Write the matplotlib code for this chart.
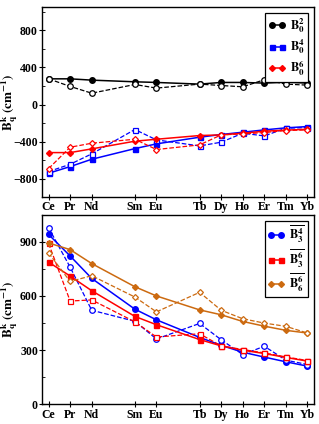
import numpy as np
import matplotlib
matplotlib.use('Agg')
import matplotlib.pyplot as plt
from matplotlib.ticker import MultipleLocator

plt.rcParams['font.family'] = 'Liberation Serif'
plt.rcParams['font.weight'] = 'bold'
plt.rcParams['mathtext.fontset'] = 'stix'

elements = ['Ce', 'Pr', 'Nd', 'Sm', 'Eu', 'Tb', 'Dy', 'Ho', 'Er', 'Tm', 'Yb']
z = [58, 59, 60, 62, 63, 65, 66, 67, 68, 69, 70]

# top panel (axial parameters): solid = filled markers, dashed = open markers
b20 = [277, 277, 263, 245, 238, 220, 238, 238, 231, 241, 231]
b20_open = [277, 195, 122, 216, 177, 220, 205, 191, 267, 220, 209]
b40 = [-742, -670, -591, -476, -425, -353, -324, -299, -274, -252, -238]
b40_open = [-724, -645, -533, -270, -382, -447, -407, -310, -339, -256, -249]
b60 = [-519, -519, -479, -396, -375, -335, -328, -310, -288, -277, -267]
b60_open = [-692, -461, -418, -375, -486, -436, -328, -317, -303, -281, -274]

# bottom panel (off-axial parameters)
b43 = [940, 821, 697, 527, 468, 371, 327, 289, 262, 236, 212]
b43_open = [977, 759, 521, 460, 362, 448, 358, 276, 322, 245, 221]
b63 = [787, 710, 629, 487, 441, 359, 324, 300, 282, 260, 240]
b63_open = [890, 572, 578, 457, 373, 391, 324, 304, 285, 263, 243]
b66 = [893, 856, 779, 651, 600, 523, 496, 459, 433, 410, 395]
b66_open = [838, 680, 712, 594, 512, 620, 521, 474, 450, 432, 395]

brown = '#cc6a10'


def draw(ax, full, opn, color, marker, label, ms):
    ax.plot(z, full, '-', color=color, marker=marker, ms=ms, lw=1.1, label=label)
    ax.plot(z, opn, '--', color=color, marker=marker, ms=ms, lw=0.9,
            mfc='white', mec=color, mew=0.9)


def style(ax, ylim, major, minor):
    ax.set_xlim(57.7, 70.3)
    ax.set_ylim(*ylim)
    ax.set_xticks(z)
    ax.set_xticklabels(elements)
    ax.yaxis.set_major_locator(MultipleLocator(major))
    ax.yaxis.set_minor_locator(MultipleLocator(minor))
    ax.tick_params(axis='both', which='major', labelsize=8.5, direction='inout', length=4)
    ax.tick_params(axis='y', which='minor', direction='in', length=2.5)
    ax.tick_params(axis='x', pad=1)
    ax.tick_params(axis='y', pad=1)
    for lab in ax.get_xticklabels() + ax.get_yticklabels():
        lab.set_fontweight('bold')
    ax.set_ylabel(r'$\mathbf{B_q^k}$ $\mathbf{(cm^{-1})}$', fontsize=9.5)
    ax.yaxis.set_label_coords(-0.08, 0.5)
    for s in ax.spines.values():
        s.set_linewidth(1.0)


fig = plt.figure(figsize=(3.19, 4.24), dpi=100)
ax1 = fig.add_axes([0.132, 0.535, 0.852, 0.448])
ax2 = fig.add_axes([0.132, 0.046, 0.852, 0.448])

draw(ax1, b20, b20_open, 'black', 'o', r'$\mathbf{B_0^2}$', 4)
draw(ax1, b40, b40_open, 'blue', 's', r'$\mathbf{B_0^4}$', 3.6)
draw(ax1, b60, b60_open, 'red', 'D', r'$\mathbf{B_0^6}$', 3)
style(ax1, (-1000, 1050), 400, 200)

draw(ax2, b43, b43_open, 'blue', 'o', r'$\overline{\mathbf{B_3^4}}$', 4)
draw(ax2, b63, b63_open, 'red', 's', r'$\overline{\mathbf{B_3^6}}$', 3.6)
draw(ax2, b66, b66_open, brown, 'D', r'$\overline{\mathbf{B_6^6}}$', 3)
style(ax2, (0, 1050), 300, 150)

for ax in (ax1, ax2):
    leg = ax.legend(loc='upper right', numpoints=2, fontsize=9, handlelength=1.4,
                    handletextpad=0.3, borderpad=0.25, labelspacing=0.2,
                    fancybox=False, framealpha=1, edgecolor='black',
                    borderaxespad=0.5)
    leg.get_frame().set_linewidth(0.9)

fig.savefig('out.png', dpi=100)
